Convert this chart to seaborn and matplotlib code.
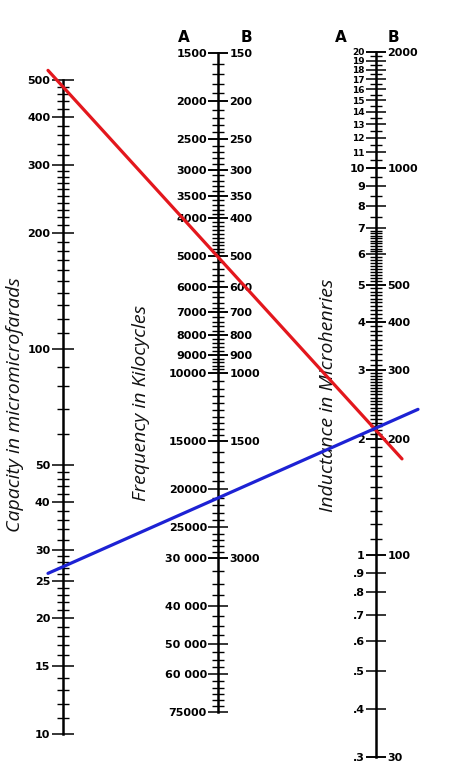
import numpy as np
import matplotlib
matplotlib.use("Agg")
import matplotlib.pyplot as plt
from matplotlib.ticker import NullFormatter, NullLocator
import seaborn as sns
import pandas as pd

# ---- values ----
cap_ticks = [10, 15, 20, 25, 30, 40, 50, 100, 200, 300, 400, 500]
cap_labels = ["10", "15", "20", "25", "30", "40", "50", "100", "200", "300", "400", "500"]

freq_a_ticks = [1500, 2000, 2500, 3000, 3500, 4000, 5000, 6000, 7000, 8000, 9000,
                10000, 15000, 20000, 25000, 30000, 40000, 50000, 60000, 75000]
freq_a_labels = ["1500", "2000", "2500", "3000", "3500", "4000", "5000", "6000", "7000",
                 "8000", "9000", "10000", "15000", "20000", "25000", "30 000", "40 000",
                 "50 000", "60 000", "75000"]
freq_b_ticks = [1500, 2000, 2500, 3000, 3500, 4000, 5000, 6000, 7000, 8000, 9000,
                10000, 15000, 30000]
freq_b_labels = ["150", "200", "250", "300", "350", "400", "500", "600", "700", "800",
                 "900", "1000", "1500", "3000"]

ind_a_ticks = [0.3, 0.4, 0.5, 0.6, 0.7, 0.8, 0.9, 1, 2, 3, 4, 5, 6, 7, 8, 9, 10,
               11, 12, 13, 14, 15, 16, 17, 18, 19, 20]
ind_a_labels = [".3", ".4", ".5", ".6", ".7", ".8", ".9", "1", "2", "3", "4", "5", "6",
                "7", "8", "9", "10", "11", "12", "13", "14", "15", "16", "17", "18",
                "19", "20"]
ind_b_ticks = [0.3, 1, 2, 3, 4, 5, 10, 20]
ind_b_labels = ["30", "100", "200", "300", "400", "500", "1000", "2000"]

# the two example readings ruled across the chart (capacity, inductance A-scale)
line_names = ["red", "blue"]
line_cap = [480, 27.2]
line_ind = [2.1, 2.13]
line_colors = {"red": "#e3171d", "blue": "#1d22d4"}

# ---- figure ----
sns.set_theme(style="white")
plt.rcParams["font.family"] = ["DejaVu Sans"]

W, H = 460, 768
fig = plt.figure(figsize=(W / 100, H / 100), dpi=100)
fig.patch.set_facecolor("white")

TICK = dict(direction="inout", color="black", width=1.1, pad=1,
            labelsize=8, labelcolor="black")


def minor_steps(spans):
    out = []
    for lo, hi, step in spans:
        out.extend(np.arange(lo, hi + step / 2, step))
    return out


def scale_axes(x_px, top_px, bottom_px):
    ax = fig.add_axes([x_px / W, 1 - bottom_px / H, 0.0004, (bottom_px - top_px) / H])
    ax.set_facecolor("none")
    for s in ("top", "right", "bottom"):
        ax.spines[s].set_visible(False)
    ax.spines["left"].set_linewidth(1.8)
    ax.spines["left"].set_color("black")
    ax.set_xticks([])
    ax.set_yscale("log")
    return ax


def right_labels(ax, ticks, labels):
    tw = ax.twinx()
    tw.set_yscale("log")
    tw.set_ylim(ax.get_ylim())
    for s in tw.spines.values():
        s.set_visible(False)
    tw.set_yticks(ticks, labels, fontweight="bold")
    tw.yaxis.set_minor_locator(NullLocator())
    tw.tick_params(axis="y", which="major", left=False, right=True, length=14, **TICK)
    return tw


def style_left(ax, ticks, labels, minors, major_len=16, minor_len=9):
    ax.set_yticks(ticks, labels, fontweight="bold")
    ax.set_yticks(minors, minor=True)
    ax.yaxis.set_minor_formatter(NullFormatter())
    ax.tick_params(axis="y", which="major", left=True, length=major_len, **TICK)
    ax.tick_params(axis="y", which="minor", left=True, direction="inout",
                   length=minor_len, width=1.0, color="black")


# capacity scale
ax_cap = scale_axes(63, 80, 734)
ax_cap.set_ylim(10, 500)
style_left(ax_cap, cap_ticks, cap_labels,
           minor_steps([(10, 30, 1), (30, 50, 2), (50, 100, 10), (100, 200, 10),
                        (200, 300, 10), (300, 500, 20)]))

# frequency scale (grows downward)
ax_freq = scale_axes(218, 53, 712)
ax_freq.set_ylim(75000, 1500)
style_left(ax_freq, freq_a_ticks, freq_a_labels,
           minor_steps([(1500, 5000, 100), (5000, 10000, 200), (10000, 15000, 500),
                        (15000, 30000, 1000), (30000, 75000, 2500)]),
           major_len=14, minor_len=8)
right_labels(ax_freq, freq_b_ticks, freq_b_labels)

# inductance scale
ax_ind = scale_axes(376, 52, 757)
ax_ind.set_ylim(0.3, 20)
style_left(ax_ind, ind_a_ticks, ind_a_labels,
           minor_steps([(1, 2, 0.1), (2, 3, 0.05), (3, 7, 0.1), (7, 10, 0.5),
                        (10, 20, 0.5)]),
           major_len=14, minor_len=8)
for lbl, v in zip(ax_ind.get_yticklabels(), ind_a_ticks):
    if v > 10:
        lbl.set_fontsize(6.5)
right_labels(ax_ind, ind_b_ticks, ind_b_labels)

# axis titles
title_kw = dict(rotation=90, ha="center", va="center", style="italic",
                family=["Open Sans", "DejaVu Sans"], fontsize=14, color="#111111")
fig.text(15 / W, 1 - 405 / H, "Capacity in micromicrofarads", **title_kw)
fig.text(141 / W, 1 - 403 / H, "Frequency in Kilocycles", **title_kw)
fig.text(328 / W, 1 - 395 / H, "Inductance in Microhenries", **title_kw)

# A / B headers
head_kw = dict(ha="center", va="center", fontsize=11, fontweight="bold", color="black")
for x_px, s in [(184, "A"), (246, "B"), (341, "A"), (393, "B")]:
    fig.text(x_px / W, 1 - 38 / H, s, **head_kw)

# ruled lines through the scales
ax_ov = fig.add_axes([0, 0, 1, 1])
ax_ov.set_xlim(0, W)
ax_ov.set_ylim(H, 0)
inv = ax_ov.transData.inverted()
ext = {"red": (15, 26), "blue": (15, 42)}

rows = []
for name, c, l in zip(line_names, line_cap, line_ind):
    p0 = inv.transform(ax_cap.transData.transform((0, c)))
    p1 = inv.transform(ax_ind.transData.transform((0, l)))
    span = p1[0] - p0[0]
    for t in (-ext[name][0] / span, 1 + ext[name][1] / span):
        pt = p0 + t * (p1 - p0)
        rows.append({"setting": name, "x": pt[0], "y": pt[1]})
df = pd.DataFrame(rows)

sns.lineplot(data=df, x="x", y="y", hue="setting", palette=line_colors, sort=False,
             estimator=None, linewidth=2.3, legend=False, ax=ax_ov)
ax_ov.set_xlim(0, W)
ax_ov.set_ylim(H, 0)
ax_ov.axis("off")
ax_ov.set_zorder(10)

fig.savefig("out.png", dpi=100)
